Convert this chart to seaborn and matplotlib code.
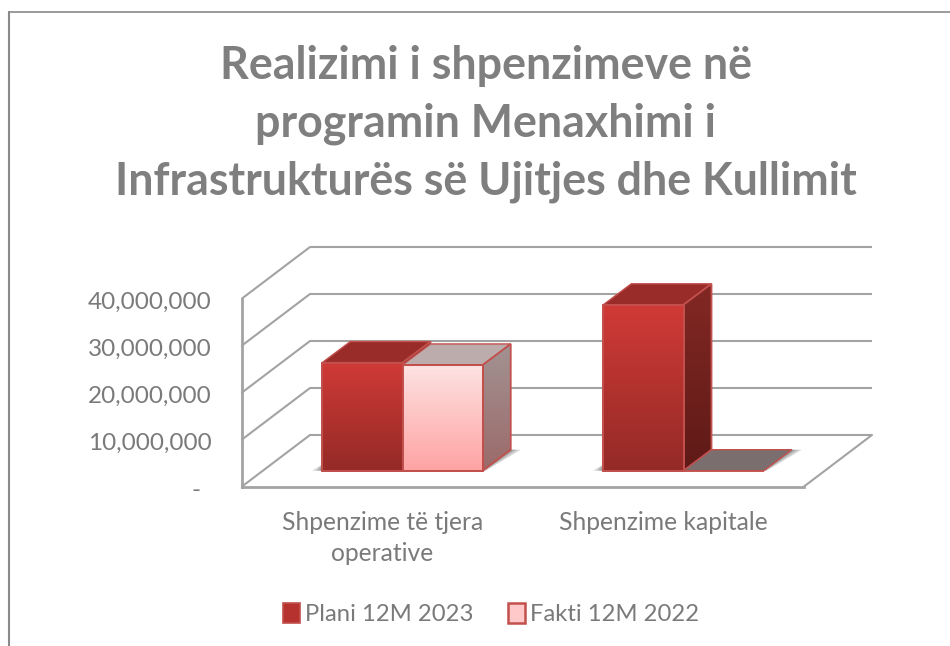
import pandas as pd
import numpy as np
import matplotlib
matplotlib.use('Agg')
import matplotlib.pyplot as plt
from matplotlib.colors import LinearSegmentedColormap
from matplotlib.lines import Line2D
from matplotlib.patches import Patch, Polygon
from matplotlib.transforms import ScaledTranslation
import seaborn as sns

# values
categories = ['Shpenzime të tjera\noperative', 'Shpenzime kapitale']
plani = [23000000, 35300000]
fakti = [22500000, 0]
series_names = ['Plani 12M 2023', 'Fakti 12M 2022']
y_ticks = [0, 10000000, 20000000, 30000000, 40000000]
y_labels = ['-', '10,000,000', '20,000,000', '30,000,000', '40,000,000']
title = 'Realizimi i shpenzimeve në\nprogramin Menaxhimi i\nInfrastrukturës së Ujitjes dhe Kullimit'

W, H = 950, 646
sns.set_style('white')
plt.rcParams['font.family'] = ['Lato', 'DejaVu Sans']

GRID = '#A3A3A3'
TEXT = '#7A7A7A'
EDGE = '#C2504D'

# pixel sizes of the fake 3d box, turned into data units below
PX_X = 281.0
PX_Y = 47.0 / 10000000
DX, DY = 68 / PX_X, 51.5 / PX_Y        # depth of the floor
OFF_X, OFF_Y = 20 / PX_X, 15.8 / PX_Y  # bars stand inside the floor
BX, BY = 28 / PX_X, 21 / PX_Y          # depth of a bar

df = pd.DataFrame({
    'category': categories * 2,
    'value': plani + fakti,
    'series': [series_names[0]] * 2 + [series_names[1]] * 2,
})

fig = plt.figure(figsize=(W / 100, H / 100), dpi=100)
ax = fig.add_axes([242 / W, 1 - 486.5 / H, 562 / W, 188 / H])
sns.barplot(data=df, x='category', y='value', hue='series', width=0.571, gap=0,
            legend=False, ax=ax)
ax.set_xlim(-0.5, 1.5)
ax.set_ylim(0, 40000000)
ax.autoscale(False)
ax.patch.set_alpha(0)


def gradient_face(pts, top, bottom, z):
    pts = np.array(pts)
    cmap = LinearSegmentedColormap.from_list('f', [top, bottom])
    im = ax.imshow(np.linspace(0, 1, 128).reshape(-1, 1), cmap=cmap, aspect='auto',
                   extent=(pts[:, 0].min(), pts[:, 0].max(), pts[:, 1].min(), pts[:, 1].max()),
                   interpolation='bilinear', zorder=z)
    im.set_clip_box(fig.bbox)
    im.set_clip_path(Polygon(pts, transform=ax.transData))
    ax.add_patch(Polygon(pts, closed=True, fc='none', ec=EDGE, lw=1.3, clip_on=False, zorder=z + 0.1))


# back wall, side wall and floor
for t in y_ticks:
    ax.hlines(t + DY, -0.5 + DX, 1.5 + DX, color=GRID, lw=1.5, zorder=1, clip_on=False)
    ax.plot([-0.5, -0.5 + DX], [t, t + DY], color=GRID, lw=1.5, zorder=1, clip_on=False)
ax.plot([1.5, 1.5 + DX], [0, DY], color=GRID, lw=1.5, zorder=1, clip_on=False)

# colours per series: front top/bottom, roof, side top/bottom
looks = [
    ('#D03A36', '#942A27', '#992B28', '#822824', '#5F1A17'),
    ('#FDE2E2', '#FFA3A3', '#BDACAC', '#A39292', '#9C6A6A'),
]
zero_roof = '#7A6E6E'

for i, bars in enumerate(ax.containers):
    front_top, front_bot, roof, side_top, side_bot = looks[i]
    for bar in bars:
        x0 = bar.get_x() + OFF_X
        x1 = x0 + bar.get_width()
        y0 = OFF_Y
        y1 = y0 + bar.get_height()
        bar.set_x(x0)
        bar.set_y(y0)
        bar.set_facecolor('none')
        bar.set_edgecolor(EDGE)
        bar.set_linewidth(1.3)
        bar.set_clip_on(False)
        base = 3 + i * 3
        bar.set_zorder(base + 2)

        # soft shadow on the floor
        for pad in [3, 6, 10]:
            p = pad / PX_X
            ax.add_patch(Polygon([(x0 - p, y0), (x1 + p * 0.3, y0), (x1 + BX + p, y0 + BY), (x0 + BX, y0 + BY),
                                  (x0, y0 + 0.3 * BY)],
                                 closed=True, fc='#404040', ec='none', alpha=0.22, zorder=2, clip_on=False))

        roof_c = zero_roof if bar.get_height() == 0 else roof
        ax.add_patch(Polygon([(x0, y1), (x1, y1), (x1 + BX, y1 + BY), (x0 + BX, y1 + BY)], closed=True,
                             fc=roof_c, ec=EDGE, lw=1.0, clip_on=False, zorder=base))
        if bar.get_height() > 0:
            gradient_face([(x1, y0), (x1 + BX, y0 + BY), (x1 + BX, y1 + BY), (x1, y1)], side_top, side_bot, base)
            gradient_face([(x0, y0), (x1, y0), (x1, y1), (x0, y1)], front_top, front_bot, base + 1)

sns.despine(ax=ax, top=True, right=True)
for s in ['left', 'bottom']:
    ax.spines[s].set_color(GRID)
    ax.spines[s].set_linewidth(2)
ax.set_xlabel('')
ax.set_ylabel('')
ax.set_yticks(y_ticks)
ax.set_yticklabels(y_labels)
ax.tick_params(axis='y', length=0, pad=22, labelsize=17.5, labelcolor=TEXT)
ax.tick_params(axis='x', length=0, pad=18, labelsize=17.7, labelcolor=TEXT)
for lab in ax.get_xticklabels():
    lab.set_linespacing(1.41)
# labels sit a little under the lines, the dash further left
for lab in ax.get_yticklabels():
    shift = -11 if lab.get_text() == '-' else 0
    lab.set_transform(lab.get_transform() + ScaledTranslation(shift / 100, -2 / 100, fig.dpi_scale_trans))

fig.suptitle(title, x=486 / W, y=1 - 124 / H, va='center', ha='center',
             fontsize=32.2, fontweight='bold', color='#7F7F7F', linespacing=1.45)

handles = [Patch(fc='#B5322F', ec=EDGE, lw=1.2), Patch(fc='#FFC9C9', ec=EDGE, lw=1.8)]
fig.legend(handles, series_names, loc='center', bbox_to_anchor=(491 / W, 1 - 614 / H), ncol=2,
           frameon=False, fontsize=17.2, labelcolor=TEXT, handlelength=0.72, handleheight=0.9,
           handletextpad=0.2, columnspacing=1.42)

# chart frame
fig.add_artist(Line2D([9 / W, 9 / W], [0, 1 - 12 / H], color='#8A8A8A', lw=1.5))
fig.add_artist(Line2D([9 / W, 1], [1 - 12 / H, 1 - 12 / H], color='#8A8A8A', lw=1.2))

fig.savefig('out.png', dpi=100)
